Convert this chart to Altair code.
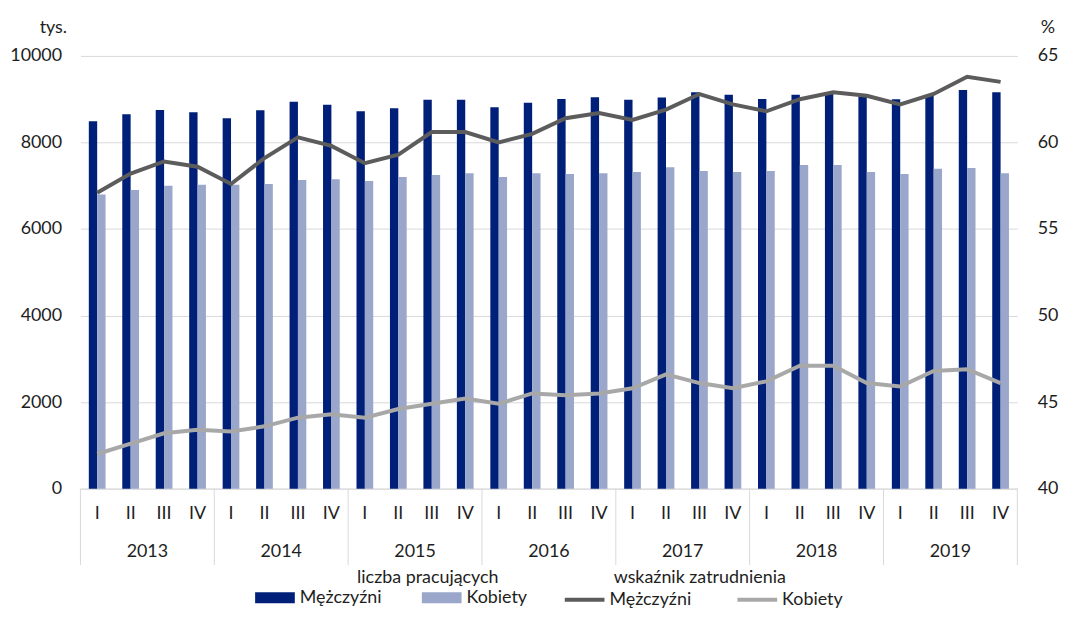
import altair as alt
import pandas as pd

years = ["2013", "2014", "2015", "2016", "2017", "2018", "2019"]
quarters = ["I", "II", "III", "IV"]
series = ["Mężczyźni", "Kobiety"]
rate_series = ["Mężczyźni (wskaźnik zatrudnienia)", "Kobiety (wskaźnik zatrudnienia)"]

# liczba pracujących (tys.)
men_cnt = [8490, 8650, 8750, 8700, 8560, 8745, 8940, 8870, 8720, 8790, 8985, 8985, 8815, 8915,
           9005, 9045, 8985, 9040, 9160, 9100, 9005, 9100, 9150, 9050, 9000, 9100, 9210, 9160]
women_cnt = [6800, 6900, 7000, 7020, 7020, 7040, 7130, 7150, 7110, 7200, 7250, 7290, 7200, 7290,
             7270, 7290, 7320, 7430, 7340, 7320, 7340, 7480, 7480, 7320, 7270, 7390, 7410, 7290]
# wskaźnik zatrudnienia (%)
men_rate = [57.1, 58.2, 58.9, 58.6, 57.6, 59.1, 60.3, 59.8, 58.8, 59.3, 60.6, 60.6, 60.0, 60.5,
            61.4, 61.7, 61.3, 61.9, 62.8, 62.2, 61.8, 62.5, 62.9, 62.7, 62.2, 62.8, 63.8, 63.5]
women_rate = [42.0, 42.6, 43.2, 43.4, 43.3, 43.6, 44.1, 44.3, 44.1, 44.6, 44.9, 45.2, 44.9, 45.5,
              45.4, 45.5, 45.8, 46.6, 46.1, 45.8, 46.2, 47.1, 47.1, 46.1, 45.9, 46.8, 46.9, 46.1]

left_ticks = [0, 2000, 4000, 6000, 8000, 10000]
right_ticks = [40, 45, 50, 55, 60, 65]

keys = [f"{y} {q}" for y in years for q in quarters]
idx = list(range(len(keys)))

bars_df = pd.DataFrame({
    "key": keys * 2,
    "i": idx * 2,
    "płeć": [series[0]] * len(keys) + [series[1]] * len(keys),
    "liczba": men_cnt + women_cnt,
})
lines_df = pd.DataFrame({
    "key": keys * 2,
    "i": idx * 2,
    "seria": [rate_series[0]] * len(keys) + [rate_series[1]] * len(keys),
    "wskaźnik": men_rate + women_rate,
})
years_df = pd.DataFrame({"rok": years, "key": [f"{y} II" for y in years]})
div_df = pd.DataFrame({"key": [f"{y} I" for y in years]})
end_df = pd.DataFrame({"key": [keys[-1]]})

W, H = 944, 436
NAVY = "#001f78"
LIGHT = "#9aa7cb"
DGRAY = "#5c5c5c"
LGRAY = "#a8a8a8"
GRID = "#d9d9d9"
TXT = "#1e1e1e"

x_scale = alt.Scale(domain=keys, paddingInner=0, paddingOuter=0)
x_axis = alt.Axis(title=None, labelExpr="split(datum.label, ' ')[1]", ticks=False,
                  labelPadding=16, domainColor=GRID, domainWidth=1, grid=False, labelAngle=0)


def xenc(band=None):
    if band is None:
        return alt.X("key:N", scale=x_scale, axis=x_axis)
    return alt.X("key:N", scale=x_scale, axis=x_axis, bandPosition=band)


bars = alt.Chart(bars_df).mark_bar().encode(
    x=xenc(),
    xOffset=alt.XOffset("płeć:N", scale=alt.Scale(domain=series, paddingInner=0, paddingOuter=1)),
    y=alt.Y("liczba:Q", scale=alt.Scale(domain=[0, 10000], nice=False),
            axis=alt.Axis(values=left_ticks, format="d", title="tys.", titleAngle=0,
                          titleAlign="right", titleX=-14, titleY=-29, titleBaseline="middle",
                          labelPadding=19, grid=True, gridColor=GRID, domain=False, ticks=False)),
    fill=alt.Fill("płeć:N", scale=alt.Scale(domain=series, range=[NAVY, LIGHT]),
                  legend=alt.Legend(title=None, orient="none", legendX=176, legendY=526,
                                    direction="horizontal", symbolType="M-1,-0.275H1V0.275H-1Z",
                                    symbolSize=1600, symbolStrokeWidth=0, columnPadding=40,
                                    labelOffset=5)),
)

lines = alt.Chart(lines_df).mark_line(strokeWidth=4).encode(
    x=xenc(),
    y=alt.Y("wskaźnik:Q", scale=alt.Scale(domain=[40, 65], nice=False),
            axis=alt.Axis(orient="right", values=right_ticks, title="%", titleAngle=0,
                          titleAlign="left", titleX=23, titleY=-29, titleBaseline="middle",
                          labelPadding=20, grid=False, domain=False, ticks=False)),
    stroke=alt.Stroke("seria:N", scale=alt.Scale(domain=rate_series, range=[DGRAY, LGRAY]),
                      legend=alt.Legend(title=None, orient="none", legendX=486, legendY=526,
                                        direction="horizontal", symbolType="stroke",
                                        symbolSize=1600, symbolStrokeWidth=4, columnPadding=38,
                                        labelOffset=3,
                                        labelExpr="split(datum.label, ' (')[0]")),
    order="i:Q",
)

year_text = alt.Chart(years_df).mark_text(fontSize=18, baseline="middle", color=TXT).encode(
    x=xenc(1), y=alt.value(H + 64), text="rok:N")

dividers = alt.Chart(div_df).mark_rule(color=GRID, strokeWidth=1).encode(
    x=xenc(0), y=alt.value(H), y2=alt.value(H + 77))
end_div = alt.Chart(end_df).mark_rule(color=GRID, strokeWidth=1).encode(
    x=xenc(1), y=alt.value(H), y2=alt.value(H + 77))

t1 = alt.Chart(alt.Data(values=[{}])).mark_text(fontSize=18, baseline="middle", align="center",
                                                color=TXT).encode(
    x=alt.value(350), y=alt.value(526), text=alt.value("liczba pracujących"))
t2 = alt.Chart(alt.Data(values=[{}])).mark_text(fontSize=18, baseline="middle", align="center",
                                                color=TXT).encode(
    x=alt.value(624), y=alt.value(526), text=alt.value("wskaźnik zatrudnienia"))

chart = alt.layer(bars, lines, year_text, dividers, end_div, t1, t2).resolve_scale(
    y="independent"
).properties(
    width=W, height=H,
    autosize=alt.AutoSizeParams(type="none"),
    padding={"left": 73, "top": 46, "right": 43, "bottom": 120},
).configure(
    font="Lato"
).configure_view(
    stroke=None
).configure_axis(
    labelFont="Lato", labelFontSize=18, labelColor=TXT,
    titleFont="Lato", titleFontSize=18, titleFontWeight="normal", titleColor=TXT,
).configure_legend(
    labelFont="Lato", labelFontSize=18, labelColor=TXT,
).configure_text(font="Lato")

chart.save("out.html", embed_options={"renderer": "svg", "actions": False})
